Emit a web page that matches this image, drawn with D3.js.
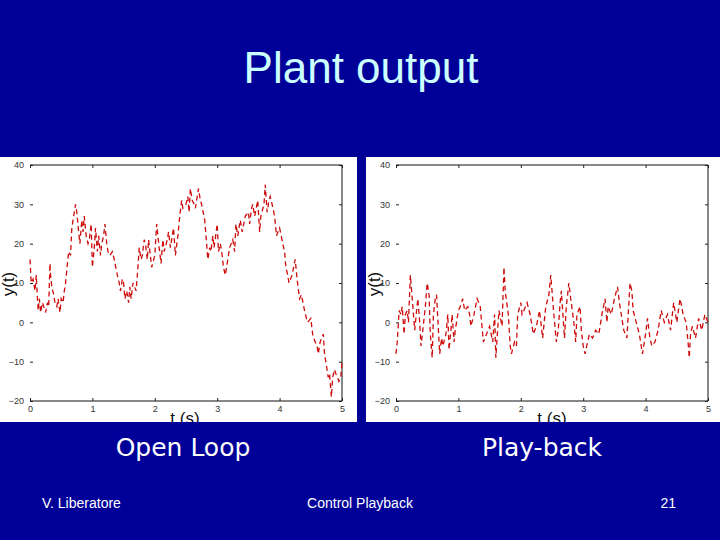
<!DOCTYPE html>
<html><head><meta charset="utf-8">
<script src="https://cdn.jsdelivr.net/npm/d3@7/dist/d3.min.js"></script>
<style>html,body{margin:0;padding:0;background:#000099;}svg{display:block;}</style>
</head><body>
<script>
// ---- data ----
const xTicks = [0, 1, 2, 3, 4, 5];
const yTicks = [-20, -10, 0, 10, 20, 30, 40];
const openLoopT = [0,0.02,0.05,0.08,0.1,0.13,0.15,0.17,0.2,0.22,0.25,0.28,0.3,0.32,0.33,0.35,0.38,0.4,0.43,0.45,0.48,0.5,0.53,0.55,0.57,0.6,0.62,0.65,0.67,0.7,0.73,0.75,0.78,0.8,0.83,0.85,0.87,0.9,0.93,0.95,0.98,1.0,1.03,1.05,1.08,1.1,1.13,1.15,1.18,1.2,1.23,1.25,1.28,1.32,1.35,1.4,1.43,1.45,1.48,1.5,1.52,1.55,1.58,1.6,1.62,1.65,1.7,1.73,1.75,1.78,1.8,1.83,1.85,1.88,1.9,1.95,2.0,2.03,2.07,2.1,2.13,2.15,2.2,2.22,2.25,2.3,2.33,2.37,2.4,2.43,2.45,2.5,2.53,2.55,2.57,2.6,2.63,2.65,2.7,2.73,2.75,2.8,2.82,2.85,2.88,2.9,2.93,2.95,3.0,3.02,3.05,3.08,3.1,3.13,3.17,3.2,3.25,3.28,3.3,3.33,3.37,3.4,3.45,3.5,3.52,3.55,3.57,3.6,3.65,3.68,3.7,3.75,3.77,3.8,3.83,3.85,3.88,3.92,3.95,4.0,4.05,4.08,4.1,4.13,4.15,4.2,4.25,4.28,4.32,4.35,4.4,4.43,4.45,4.5,4.53,4.57,4.6,4.62,4.65,4.7,4.72,4.75,4.78,4.8,4.83,4.85,4.88,4.9,4.93,4.95,4.98,5.0];
const openLoopY = [16,10,11,8,12,3,6,2.5,5,4,2.5,5,4,15,12,9,7,5,4,6,2.5,6,5,8,10,15,18,17,24,27,30,28,23,20,26,23,27,22,20,21,25,14,19,24,18,22,17,20,22,25,20,18,17,18,16,12,10,8,11,10,6,8,5,9,6,10,8,14,19,16,17,21,20,16,21,14,17,25,19,15,21,18,21,23,19,24,17,22,27,31,29,30,32,28,34,31,30,29,34,31,30,26,22,16,19,18,22,19,25,18,20,17,14,12,16,19,21,18,25,22,26,23,27,28,25,29,30,27,31,23,27,30,35,28,31,32,30,27,22,24,20,18,14,12,10,12,16,11,6,7,3,1,0,1,-3,-5,-6,-8,-5,-3,-8,-11,-14,-13,-19,-14,-12,-13,-14,-15,-14,-10];
const playbackT = [0,0.02,0.05,0.08,0.1,0.13,0.15,0.18,0.2,0.23,0.25,0.28,0.3,0.33,0.35,0.38,0.4,0.43,0.47,0.5,0.53,0.55,0.58,0.6,0.63,0.65,0.68,0.7,0.73,0.75,0.8,0.83,0.85,0.88,0.9,0.93,0.95,1.0,1.03,1.07,1.1,1.15,1.18,1.2,1.25,1.3,1.35,1.4,1.45,1.5,1.55,1.58,1.6,1.62,1.65,1.7,1.73,1.75,1.8,1.83,1.85,1.9,1.93,1.95,2.0,2.02,2.05,2.1,2.15,2.2,2.25,2.3,2.35,2.4,2.45,2.48,2.5,2.53,2.57,2.6,2.63,2.65,2.7,2.73,2.77,2.8,2.85,2.88,2.9,2.95,2.97,3.0,3.03,3.07,3.1,3.15,3.2,3.25,3.3,3.35,3.38,3.4,3.45,3.5,3.55,3.58,3.6,3.65,3.7,3.75,3.78,3.8,3.85,3.9,3.95,4.0,4.03,4.07,4.1,4.15,4.2,4.25,4.3,4.35,4.4,4.45,4.5,4.55,4.58,4.6,4.65,4.68,4.7,4.72,4.75,4.8,4.85,4.9,4.95,5.0];
const playbackY = [-8,-5,3,2,4,-3,2,3,0,12,8,2,-2,3,6,0,-6,-2,4,10,7,-3,-9,2,6,7,-2,-8,-4,-6,-3,2,-7,-2,2,-5,-2,3,4,6,3,4,2,-1,2,6,4,-5,-3,-1,-5,2,-9,-4,3,-1,14,8,2,-6,-8,-5,-6,2,5,2,3,5,2,-3,-1,3,-4,4,7,12,8,2,-5,-2,5,8,-4,4,10,6,0,-5,2,4,-2,-6,-8,-5,-3,-4,-2,-3,2,6,0,4,2,6,9,5,3,-2,-4,10,8,3,0,-3,-8,-3,1,-4,-6,-5,-2,3,0,2,-2,5,0,6,4,2,0,-5,-9,-3,-1,-4,1,-2,2,0];
const panels = [
  {t: openLoopT, y: openLoopY, caption: "Open Loop"},
  {t: playbackT, y: playbackY, caption: "Play-back"}
];

// ---- layout ----
const W = 720, H = 540;
const svg = d3.select("body").append("svg").attr("width", W).attr("height", H);
svg.append("rect").attr("width", W).attr("height", H).attr("fill", "#000099");

svg.append("text").attr("x", 361).attr("y", 83).attr("text-anchor", "middle")
  .attr("font-family", "Liberation Sans, Arial, sans-serif").attr("font-size", 44)
  .attr("fill", "#ccffff").text("Plant output");

const boxes = [
  {bx: 0, bw: 357, x0: 30, x1: 342, capX: 183, tsX: 185},
  {bx: 366, bw: 354, x0: 396, x1: 708, capX: 542, tsX: 552}
];
const by = 157, bh = 265, yTop = 165, yBot = 401;

panels.forEach((p, i) => {
  const b = boxes[i];
  const clipId = "clip" + i;
  svg.append("clipPath").attr("id", clipId).append("rect")
    .attr("x", b.bx).attr("y", by).attr("width", b.bw).attr("height", bh);
  const g = svg.append("g").attr("clip-path", `url(#${clipId})`);
  g.append("rect").attr("x", b.bx).attr("y", by).attr("width", b.bw).attr("height", bh).attr("fill", "#ffffff");

  const x = d3.scaleLinear().domain([0, 5]).range([b.x0, b.x1]);
  const y = d3.scaleLinear().domain([-20, 40]).range([yBot, yTop]);
  const font = "Liberation Sans, Arial, sans-serif";

  // frame lines (top, bottom, right)
  g.append("line").attr("x1", b.x0).attr("x2", b.x1).attr("y1", yTop).attr("y2", yTop).attr("stroke", "#111").attr("stroke-width", 1);
  g.append("line").attr("x1", b.x0).attr("x2", b.x1).attr("y1", yBot).attr("y2", yBot).attr("stroke", "#111").attr("stroke-width", 1);
  g.append("line").attr("x1", b.x1).attr("x2", b.x1).attr("y1", yTop).attr("y2", yBot).attr("stroke", "#111").attr("stroke-width", 1);

  // left axis ticks + labels
  const yAxis = d3.axisLeft(y).tickValues(yTicks).tickSize(-3).tickPadding(6).tickFormat(d3.format("d"));
  const ya = g.append("g").attr("transform", `translate(${b.x0},0)`).call(yAxis);
  ya.select(".domain").remove();
  ya.selectAll("text").attr("font-family", font).attr("font-size", 9).attr("fill", "#333");
  ya.selectAll("line").attr("stroke", "#222");
  // right ticks
  const yAxisR = d3.axisRight(y).tickValues(yTicks).tickSize(-3).tickFormat("");
  const yr = g.append("g").attr("transform", `translate(${b.x1},0)`).call(yAxisR);
  yr.select(".domain").remove();
  yr.selectAll("line").attr("stroke", "#222");

  // bottom axis
  const xAxis = d3.axisBottom(x).tickValues(xTicks).tickSize(-3).tickPadding(5).tickFormat(d3.format("d"));
  const xa = g.append("g").attr("transform", `translate(0,${yBot})`).call(xAxis);
  xa.select(".domain").remove();
  xa.selectAll("text").attr("font-family", font).attr("font-size", 9).attr("fill", "#333");
  xa.selectAll("line").attr("stroke", "#222");
  const xAxisT = d3.axisTop(x).tickValues(xTicks).tickSize(-3).tickFormat("");
  const xt = g.append("g").attr("transform", `translate(0,${yTop})`).call(xAxisT);
  xt.select(".domain").remove();
  xt.selectAll("line").attr("stroke", "#222");

  // data line
  const pts = p.t.map((t, k) => [t, p.y[k]]);
  g.append("path").datum(pts)
    .attr("d", d3.line().x(d => x(d[0])).y(d => y(d[1])))
    .attr("fill", "none").attr("stroke", "#cc0a0a").attr("stroke-width", 1.3)
    .attr("stroke-dasharray", "5,3.5");

  // axis titles
  g.append("text").attr("transform", `translate(${b.bx + 14},284) rotate(-90)`)
    .attr("text-anchor", "middle").attr("font-family", font).attr("font-size", 17)
    .attr("fill", "#111").text("y(t)");
  g.append("text").attr("x", b.tsX).attr("y", 424).attr("text-anchor", "middle")
    .attr("font-family", font).attr("font-size", 17).attr("fill", "#111").text("t (s)");

  // caption
  svg.append("text").attr("x", b.capX).attr("y", 456).attr("text-anchor", "middle")
    .attr("font-family", "DejaVu Sans, sans-serif").attr("font-size", 25)
    .attr("fill", "#ffffff").text(p.caption);
});

// footer
const ff = "Liberation Sans, Arial, sans-serif";
svg.append("text").attr("x", 42).attr("y", 508).attr("font-family", ff).attr("font-size", 14).attr("fill", "#fff").text("V. Liberatore");
svg.append("text").attr("x", 360).attr("y", 508).attr("text-anchor", "middle").attr("font-family", ff).attr("font-size", 14).attr("fill", "#fff").text("Control Playback");
svg.append("text").attr("x", 676).attr("y", 508).attr("text-anchor", "end").attr("font-family", ff).attr("font-size", 14).attr("fill", "#fff").text("21");
</script>
</body></html>
